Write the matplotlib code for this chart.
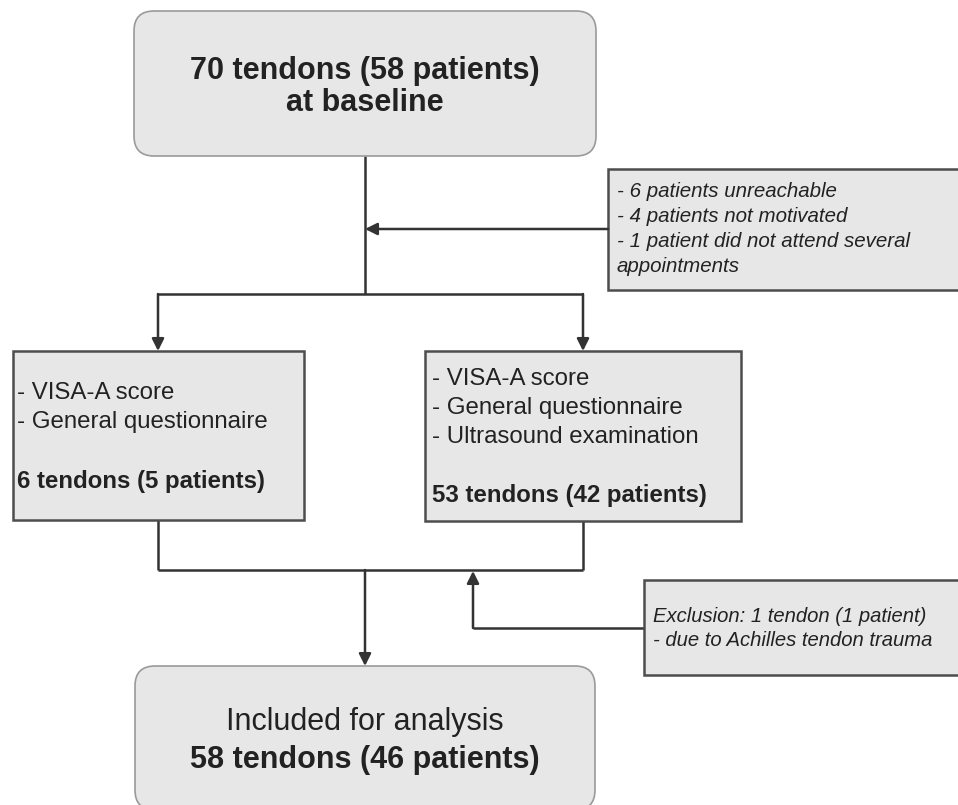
import matplotlib.pyplot as plt
from matplotlib.patches import FancyBboxPatch, Rectangle

plt.rcParams["font.family"] = ["Liberation Sans", "DejaVu Sans"]

# ---- texts of the flow chart ----
top_lines = ["70 tendons (58 patients)", "at baseline"]
dropout_lines = [
    "- 6 patients unreachable",
    "- 4 patients not motivated",
    "- 1 patient did not attend several",
    "appointments",
]
left_items = ["- VISA-A score", "- General questionnaire"]
left_count = "6 tendons (5 patients)"
right_items = ["- VISA-A score", "- General questionnaire", "- Ultrasound examination"]
right_count = "53 tendons (42 patients)"
exclusion_lines = ["Exclusion: 1 tendon (1 patient)", "- due to Achilles tendon trauma"]
bottom_lines = ["Included for analysis", "58 tendons (46 patients)"]

# ---- layout (pixel coords, y down) ----
W, H = 958, 805
FILL = "#e7e7e7"
EDGE = "#4d4d4d"
LINE = "#333333"
TXT = "#222222"

fig = plt.figure(figsize=(W / 100, H / 100), dpi=100)
ax = fig.add_axes([0, 0, 1, 1])
ax.set_xlim(0, W)
ax.set_ylim(H, 0)
ax.axis("off")


def rbox(x0, y0, x1, y1):
    ax.add_patch(FancyBboxPatch((x0, y0), x1 - x0, y1 - y0,
                                boxstyle="round,pad=0,rounding_size=20",
                                fc=FILL, ec="#9a9a9a", lw=1.2, zorder=2))


def sbox(x0, y0, x1, y1):
    ax.add_patch(Rectangle((x0, y0), x1 - x0, y1 - y0,
                           fc=FILL, ec=EDGE, lw=1.8, zorder=2))


def seg(xs, ys):
    ax.plot(xs, ys, color=LINE, lw=1.8, solid_capstyle="butt", zorder=1)


def arrow(x0, y0, x1, y1):
    ax.annotate("", xy=(x1, y1), xytext=(x0, y0),
                arrowprops=dict(arrowstyle="-|>", color=LINE, lw=1.8,
                                mutation_scale=18, shrinkA=0, shrinkB=0),
                zorder=3)


# boxes
rbox(134, 11, 596, 156)
sbox(608, 169, 970, 290)
sbox(13, 351, 304, 520)
sbox(425, 351, 741, 521)
sbox(644, 580, 970, 675)
rbox(135, 666, 595, 810)

# connectors
seg([365, 365], [156, 294])
arrow(608, 229, 365, 229)
seg([158, 583], [294, 294])
arrow(158, 294, 158, 351)
arrow(583, 294, 583, 351)
seg([158, 158], [520, 570])
seg([583, 583], [521, 570])
seg([158, 583], [570, 570])
arrow(365, 570, 365, 666)
seg([473, 644], [628, 628])
arrow(473, 628, 473, 571)

# texts
for s, y in zip(top_lines, [79, 111]):
    ax.text(365, y, s, ha="center", va="baseline", fontsize=22,
            fontweight="bold", color=TXT, zorder=4)

for s, y in zip(dropout_lines, [197, 222, 247, 272]):
    ax.text(617, y, s, ha="left", va="baseline", fontsize=14.8,
            style="italic", color=TXT, zorder=4)

for s, y in zip(left_items, [399, 428]):
    ax.text(17, y, s, ha="left", va="baseline", fontsize=17.3, color=TXT, zorder=4)
ax.text(17, 488, left_count, ha="left", va="baseline", fontsize=17.3,
        fontweight="bold", color=TXT, zorder=4)

for s, y in zip(right_items, [385, 414, 443]):
    ax.text(432, y, s, ha="left", va="baseline", fontsize=17.3, color=TXT, zorder=4)
ax.text(432, 502, right_count, ha="left", va="baseline", fontsize=17.3,
        fontweight="bold", color=TXT, zorder=4)

for s, y in zip(exclusion_lines, [622, 646]):
    ax.text(653, y, s, ha="left", va="baseline", fontsize=14.6,
            style="italic", color=TXT, zorder=4)

ax.text(365, 730, bottom_lines[0], ha="center", va="baseline", fontsize=22,
        color=TXT, zorder=4)
ax.text(365, 768, bottom_lines[1], ha="center", va="baseline", fontsize=22,
        fontweight="bold", color=TXT, zorder=4)

fig.savefig("out.png", dpi=100, facecolor="white")
